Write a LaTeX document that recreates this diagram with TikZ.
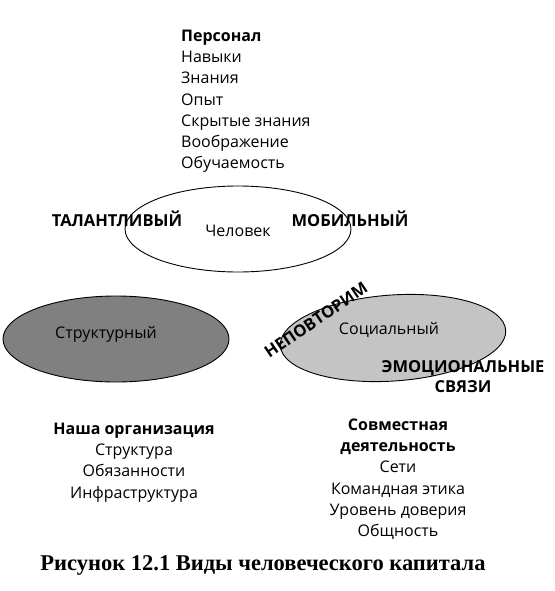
\documentclass[tikz,border=0pt]{standalone}
\usepackage{fontspec}
\setmainfont{Open Sans}
\newfontfamily\capfont{Liberation Serif}
\usetikzlibrary{shapes.geometric,positioning}

\begin{document}
\begin{tikzpicture}[x=1pt, y=-1pt,
    oval/.style = {draw, ellipse, line width=0.9pt, inner sep=0pt, minimum width=226pt, minimum height=86pt},
    lbl/.style = {font=\fontsize{16}{21.3}\selectfont, inner sep=0pt},
    tag/.style = {font=\fontsize{16.5}{20}\selectfont\bfseries, inner sep=0pt, align=center},
    list/.style = {font=\fontsize{16}{21.3}\selectfont, inner sep=0pt}]

    \useasboundingbox (0,0) rectangle (554,591);

    % ovals
    \node[oval] (person) at (238,229) {};
    \node[oval, fill=black!50] (strukt) at (116,339) {};
    \node[oval, fill=black!23, rotate=4] (social) at (393,338) {};

    \node[lbl] (personlbl) at (238,231) {Человек};
    \node[lbl] (struktlbl) at (106,334) {Структурный};
    \node[lbl] (sociallbl) at (389,330) {Социальный};

    % bold tags
    \node[tag] (talant) at (117,219) {ТАЛАНТЛИВЫЙ};
    \node[tag] (mobil) at (350,219) {МОБИЛЬНЫЙ};
    \node[tag, rotate=34] (unique) at (316,320) {НЕПОВТОРИМ};
    \node[tag] (emo) at (463,377) {ЭМОЦИОНАЛЬНЫЕ\\СВЯЗИ};

    % lists
    \node[list, align=left, anchor=north west] (personal) at (181,29.5)
        {\textbf{Персонал}\\Навыки\\Знания\\Опыт\\Скрытые знания\\Воображение\\Обучаемость};
    \node[list, align=center, anchor=north] (org) at (134,422.5)
        {\textbf{Наша организация}\\Структура\\Обязанности\\Инфраструктура};
    \node[list, align=center, anchor=north] (joint) at (398,418.5)
        {\textbf{Совместная}\\\textbf{деятельность}\\Сети\\Командная этика\\Уровень доверия\\Общность};

    % caption
    \node[font=\capfont\fontsize{22.5}{26}\selectfont\bfseries, inner sep=0pt] (caption) at (263,565)
        {Рисунок 12.1 Виды человеческого капитала};

\end{tikzpicture}
\end{document}
